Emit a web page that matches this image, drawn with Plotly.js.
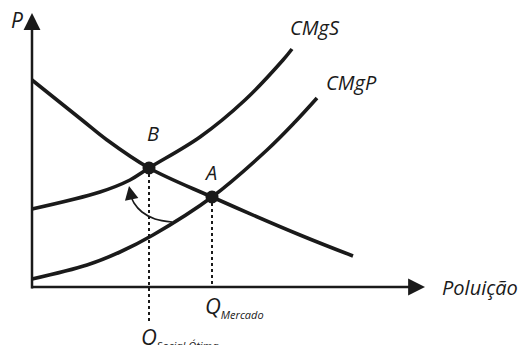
<!DOCTYPE html>
<html>
<head>
<meta charset="utf-8">
<script src="https://cdn.plot.ly/plotly-3.0.1.min.js"></script>
<style>html,body{margin:0;padding:0;background:#fff;}#chart{width:522px;height:345px;}</style>
</head>
<body>
<div id="chart"></div>
<script>
// Demand (marginal benefit) curve
const demandX = [0, 5.0, 7.5, 11.7, 18.0, 26.8, 32.1];
const demandY = [20.7, 16.7, 14.7, 11.9, 9.0, 5.2, 3.1];
// Social marginal cost
const cmgsX = [0, 6.8, 9.8, 11.7, 16.8, 21.3, 25.1, 26.0];
const cmgsY = [7.8, 9.5, 10.7, 11.9, 15.0, 18.7, 22.7, 23.8];
// Private marginal cost
const cmgpX = [0, 5.5, 8.8, 12.1, 18.0, 23.5, 26.3, 28.5];
const cmgpY = [0.8, 2.2, 3.5, 5.2, 9.0, 13.7, 16.5, 18.9];
// Equilibria
const eqLabels = ['B', 'A'];
const eqX = [11.7, 18.0];
const eqY = [11.9, 9.0];
// Curved arrow from CMgP toward CMgS
const arcX = [14.0, 12.3, 11.0, 10.2, 9.9];
const arcY = [6.5, 6.8, 7.5, 8.4, 9.1];
const arcTip = [9.7, 10.1];
// Axes extents
const xAxisEnd = 39.3;
const yAxisEnd = 27.4;
const qSocialBottom = -3.5;

const ink = '#1a1a1a';
const FONT = 'Open Sans, sans-serif';
const it = s => '<i>' + s + '</i>';

const traces = [
  {x: demandX, y: demandY, mode: 'lines', line: {color: ink, width: 3.6, shape: 'spline', smoothing: 1}},
  {x: cmgsX, y: cmgsY, mode: 'lines', line: {color: ink, width: 3.6, shape: 'spline', smoothing: 1}},
  {x: cmgpX, y: cmgpY, mode: 'lines', line: {color: ink, width: 3.6, shape: 'spline', smoothing: 1}},
  {x: [eqX[0], eqX[0]], y: [eqY[0], qSocialBottom], mode: 'lines', line: {color: ink, width: 2, dash: '3px,3px'}},
  {x: [eqX[1], eqX[1]], y: [eqY[1], 0], mode: 'lines', line: {color: ink, width: 2, dash: '3px,3px'}},
  {x: arcX, y: arcY, mode: 'lines', line: {color: ink, width: 1.6, shape: 'spline', smoothing: 1}},
  {x: eqX, y: eqY, mode: 'markers', marker: {color: ink, size: 13}}
];

const ann = [];
// axes with arrows
ann.push({x: xAxisEnd, y: 0, ax: -0.2, ay: 0, axref: 'x', ayref: 'y', xref: 'x', yref: 'y', text: '', showarrow: true, arrowhead: 2, arrowsize: 1.35, arrowwidth: 2.5, arrowcolor: ink});
ann.push({x: 0, y: yAxisEnd, ax: 0, ay: -0.3, axref: 'x', ayref: 'y', xref: 'x', yref: 'y', text: '', showarrow: true, arrowhead: 2, arrowsize: 1.35, arrowwidth: 2.5, arrowcolor: ink});
// arc arrowhead
ann.push({x: arcTip[0], y: arcTip[1], ax: arcX[arcX.length-1], ay: arcY[arcY.length-1], axref: 'x', ayref: 'y', xref: 'x', yref: 'y', text: '', showarrow: true, arrowhead: 2, arrowsize: 1.7, arrowwidth: 1.6, arrowcolor: ink});

const txt = (x, y, t, size, xanchor) => ({x: x, y: y, xref: 'x', yref: 'y', text: t, showarrow: false, xanchor: xanchor || 'center', yanchor: 'middle', font: {family: FONT, size: size, color: ink}});
ann.push(txt(-1.5, 26.7, it('P'), 21));
ann.push(txt(eqX[0] + 0.4, 15.4, it(eqLabels[0]), 20));
ann.push(txt(eqX[1] - 0.2, 11.5, it(eqLabels[1]), 20));
ann.push(txt(28.3, 26.0, it('CMgS'), 20));
ann.push(txt(31.9, 20.5, it('CMgP'), 20));
ann.push(txt(40.8, 0, it('Poluição'), 20, 'left'));
ann.push(txt(17.1, -1.9, it('Q<sub><span style="font-size:11px">Mercado</span></sub>'), 22, 'left'));
ann.push(txt(10.7, -5.0, it('Q<sub><span style="font-size:11px">Social Ótima</span></sub>'), 22, 'left'));

const layout = {
  width: 522, height: 345,
  margin: {l: 0, r: 0, t: 0, b: 0},
  paper_bgcolor: '#fff', plot_bgcolor: '#fff',
  showlegend: false,
  xaxis: {range: [-3.2, 49.0], visible: false, fixedrange: true},
  yaxis: {range: [-5.8, 28.7], visible: false, fixedrange: true},
  annotations: ann
};

Plotly.newPlot('chart', traces, layout, {staticPlot: true, displayModeBar: false});
</script>
</body>
</html>
